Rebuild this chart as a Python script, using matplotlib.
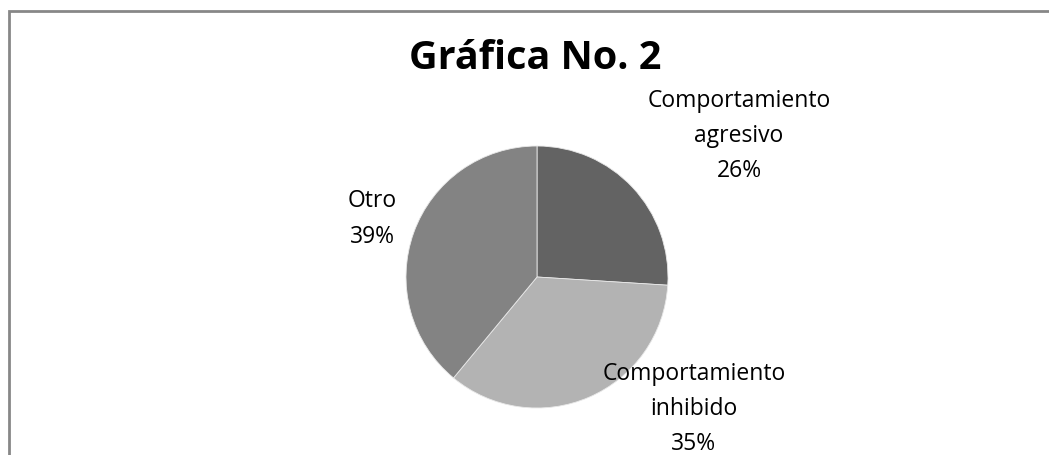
import matplotlib
matplotlib.use("Agg")
import matplotlib.pyplot as plt
from matplotlib.patches import Rectangle

title = "Gráfica No. 2"
categories = ["Comportamiento\nagresivo", "Comportamiento\ninhibido", "Otro"]
values = [26, 35, 39]
colors = ["#636363", "#b3b3b3", "#838383"]
label_pos = [(739, 136), (694, 409), (372, 219)]  # pixel centers (x, y from top)

W, H = 1049, 455
fig = plt.figure(figsize=(W / 100, H / 100), dpi=100)
ax = fig.add_axes([0, 0, 1, 1])
ax.set_xlim(0, W)
ax.set_ylim(0, H)
ax.set_aspect("equal")
ax.axis("off")

# chart border (only top and left visible)
fig.patches.append(Rectangle((9 / W, -0.1), 1.2, (H - 11) / H + 0.1, transform=fig.transFigure,
                             fill=False, edgecolor="#878787", linewidth=2))

ax.pie(values, colors=colors, startangle=90, counterclock=False,
       center=(537, H - 277), radius=131, frame=True,
       wedgeprops=dict(edgecolor="#e8e8e8", linewidth=0.6))
ax.set_xlim(0, W)
ax.set_ylim(0, H)
ax.axis("off")

for cat, v, (x, y) in zip(categories, values, label_pos):
    ax.text(x, H - y, f"{cat}\n{v}%", ha="center", va="center", fontsize=16.5,
            family="Open Sans", linespacing=1.62, color="black")

fig.text(535 / W, 1 - 69 / H, title, ha="center", va="baseline", fontsize=28.5,
         family="Open Sans", fontweight="bold")

fig.savefig("out.png", dpi=100)
